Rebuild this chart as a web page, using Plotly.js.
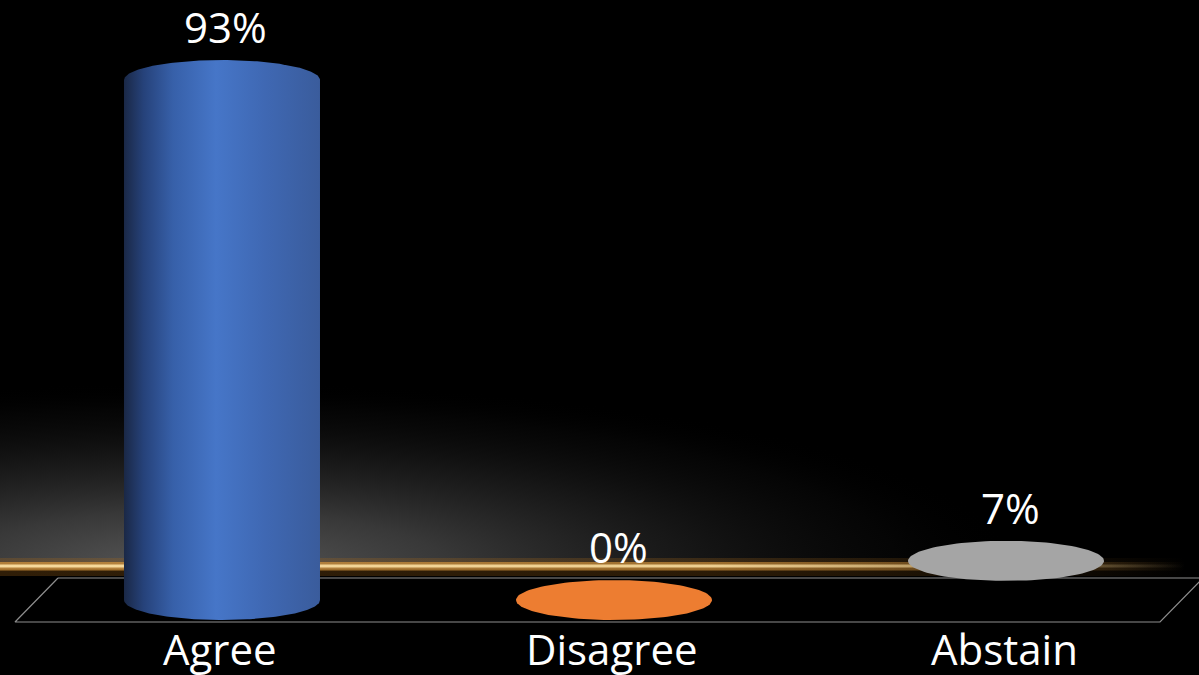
<!DOCTYPE html>
<html><head><meta charset="utf-8">
<script src="https://cdn.plot.ly/plotly-3.0.1.min.js"></script>
<style>html,body{margin:0;padding:0;background:#000;overflow:hidden}#chart{width:1199px;height:675px}</style>
</head><body><div id="chart"></div>
<script>
// ---- data ----
const categories = ['Agree', 'Disagree', 'Abstain'];
const values = [93, 0, 7];
const valueLabels = ['93%', '0%', '7%'];
const barColors = ['#4472c4', '#ed7d31', '#a5a5a5'];
const barForm = ['cylinder', 'disc', 'disc'];

// ---- geometry helpers ----
const W = 1199, H = 675;
const XR = [-0.5663, 2.4923], YR = [-13.41, 107.31];
const xPerPx = (XR[1] - XR[0]) / W, yPerPx = (YR[1] - YR[0]) / H;
const px2x = p => XR[0] + p * xPerPx;
const px2y = p => YR[1] - p * yPerPx;
const RX = 98 * xPerPx, RY = 20 * yPerPx;
const N = 120;

function ellipse(cx, cy, rx, ry) {
  const xs = [], ys = [];
  for (let k = 0; k <= N; k++) { const t = 2 * Math.PI * k / N; xs.push(cx + rx * Math.cos(t)); ys.push(cy + ry * Math.sin(t)); }
  return { xs, ys };
}
function cylinder(cx, top, base, rx, ry) {
  const xs = [], ys = [];
  for (let k = 0; k <= N; k++) { const t = Math.PI - Math.PI * k / N; xs.push(cx + rx * Math.cos(t)); ys.push(top + ry * Math.sin(t)); }
  for (let k = 0; k <= N; k++) { const t = -Math.PI * k / N; xs.push(cx + rx * Math.cos(t)); ys.push(base + ry * Math.sin(t)); }
  xs.push(xs[0]); ys.push(ys[0]);
  return { xs, ys };
}
function rectPx(x0, y0, x1, y1) {
  return { xs: [px2x(x0), px2x(x1), px2x(x1), px2x(x0), px2x(x0)], ys: [px2y(y0), px2y(y0), px2y(y1), px2y(y1), px2y(y0)] };
}
function poly(p, fill, extra) {
  return Object.assign({ x: p.xs, y: p.ys, type: 'scatter', mode: 'lines', fill: 'toself', fillcolor: fill, line: { width: 0, color: 'rgba(0,0,0,0)' }, hoverinfo: 'skip', showlegend: false }, extra || {});
}

const traces = [];

// background haze
const hz = ellipse(px2x(200), px2y(566), 820 * xPerPx, 185 * yPerPx);
traces.push(poly(hz, 'rgba(0,0,0,0)', { fillgradient: { type: 'radial', colorscale: [[0, 'rgba(95,95,95,0.95)'], [0.3, 'rgba(75,75,75,0.75)'], [0.6, 'rgba(50,50,50,0.45)'], [0.85, 'rgba(25,25,25,0.2)'], [1, 'rgba(0,0,0,0)']] } }));
// black ground below horizon
traces.push(poly(rectPx(-10, 569, 1210, 690), '#000000'));
// golden horizon glow bands
const fade = (r, g, b, a) => [[0, `rgba(${r},${g},${b},${a})`], [0.6, `rgba(${r},${g},${b},${a * 0.9})`], [0.75, `rgba(${r},${g},${b},${a * 0.65})`], [0.93, `rgba(${r},${g},${b},${a * 0.25})`], [1, `rgba(${r},${g},${b},0)`]];
traces.push(poly(rectPx(0, 558, 1185, 576), 'rgba(0,0,0,0)', { fillgradient: { type: 'horizontal', colorscale: fade(160, 100, 25, 0.3) } }));
traces.push(poly(rectPx(0, 562, 1185, 570.5), 'rgba(0,0,0,0)', { fillgradient: { type: 'horizontal', colorscale: fade(215, 150, 60, 0.7) } }));
traces.push(poly(rectPx(0, 564.5, 1185, 567.5), 'rgba(0,0,0,0)', { fillgradient: { type: 'horizontal', colorscale: fade(250, 222, 160, 0.95) } }));

// floor outline
const floorPx = [[58, 578], [1203, 578], [1160, 622], [15, 622], [58, 578]];
traces.push({ x: floorPx.map(p => px2x(p[0])), y: floorPx.map(p => px2y(p[1])), type: 'scatter', mode: 'lines', line: { color: 'rgba(190,190,190,0.75)', width: 1.2 }, hoverinfo: 'skip', showlegend: false });

// bars
const blueGrad = [[0, '#1a2846'], [0.1, '#26427a'], [0.25, '#3760a9'], [0.47, '#4676c8'], [0.72, '#3f68b3'], [1, '#3a5c9c']];
values.forEach((v, i) => {
  if (barForm[i] === 'cylinder') {
    const c = cylinder(i, v, 0, RX, RY);
    traces.push(poly(c, barColors[i], { fillgradient: { type: 'horizontal', colorscale: blueGrad } }));
  } else {
    const e = ellipse(i, v, RX, RY);
    traces.push(poly(e, barColors[i]));
  }
});

const annotations = [];
const labelFont = { family: 'Open Sans, sans-serif', size: 42, color: '#ffffff' };
values.forEach((v, i) => {
  annotations.push({ x: i, y: v + RY, xref: 'x', yref: 'y', text: valueLabels[i], showarrow: false, xanchor: 'center', yanchor: 'bottom', xshift: 4, yshift: 4, borderpad: 0, font: labelFont });
  annotations.push({ x: i, y: px2y(648), xref: 'x', yref: 'y', text: categories[i], showarrow: false, xanchor: 'center', yanchor: 'middle', xshift: -2, borderpad: 0, font: labelFont });
});

const layout = {
  width: W, height: H,
  margin: { l: 0, r: 0, t: 0, b: 0 },
  paper_bgcolor: '#000000', plot_bgcolor: '#000000',
  xaxis: { range: XR, visible: false, fixedrange: true },
  yaxis: { range: YR, visible: false, fixedrange: true },
  showlegend: false,
  annotations: annotations
};
Plotly.newPlot('chart', traces, layout, { displayModeBar: false, staticPlot: true });
</script>
</body></html>
